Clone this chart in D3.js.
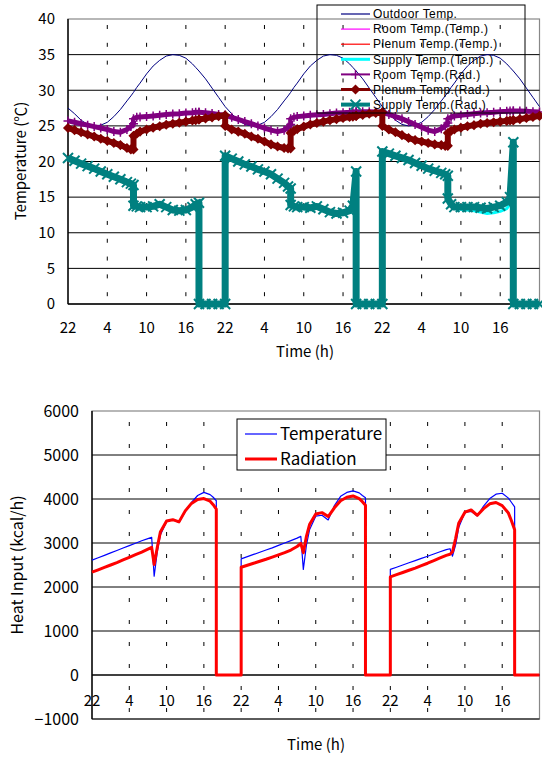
<!DOCTYPE html>
<html>
<head>
<meta charset="utf-8">
<script src="https://cdn.jsdelivr.net/npm/d3@7"></script>
<style>
  body { margin: 0; background: #fff; }
  svg { display: block; }
  text { font-family: "Noto Sans CJK JP", "DejaVu Sans", sans-serif; fill: #000; }
  .leg text { font-family: "Liberation Sans", Arial, sans-serif; }
</style>
</head>
<body>
<svg id="chart" width="542" height="760"></svg>
<script>
// hours counted from 22:00 of the first day; repeated hours mark an on/off switch
const hours = [
  0,1,2,3,4,5,6,7,8,9,9.6,10,10,10.5,11,12,13,14,15,16,17,18,19,19.5,20,20,21,22,23,
  24,24,25,26,27,28,29,30,31,32,33,33.6,34,34,34.5,35,36,37,38,39,40,41,42,43,43.5,44,44,45,46,47,
  48,48,49,50,51,52,53,54,55,56,57,57.6,58,58,58.5,59,60,61,62,63,64,65,66,67,67.5,68,68,69,70,71,72
];

const outdoorTemp = [
  27.5,26.7,25.8,25.2,25.0,25.1,25.5,26.3,27.3,28.5,29.2,29.7,29.7,30.4,31.0,32.3,33.4,34.2,34.8,35.0,34.9,34.5,33.7,33.2,32.7,32.7,31.6,30.3,29.0,
  27.7,27.7,26.7,25.8,25.2,25.0,25.1,25.5,26.3,27.3,28.5,29.2,29.7,29.7,30.4,31.0,32.3,33.4,34.2,34.8,35.0,34.9,34.5,33.7,33.2,32.7,32.7,31.6,30.3,29.0,
  27.7,27.7,26.7,25.8,25.2,25.0,25.1,25.5,26.3,27.3,28.5,29.2,29.7,29.7,30.4,31.0,32.3,33.4,34.2,34.8,35.0,34.9,34.5,33.7,33.2,32.7,32.7,31.6,30.3,29.0,27.7
];
const roomTempT = [
  25.6,25.4,25.2,25.0,24.8,24.6,24.4,24.1,24.0,24.4,24.8,25.2,25.9,26.1,26.2,26.25,26.35,26.45,26.55,26.6,26.65,26.75,26.8,26.85,26.85,26.85,26.8,26.7,26.55,
  26.45,26.45,26.1,25.8,25.5,25.2,24.9,24.6,24.3,24.1,24.3,24.7,25.1,25.9,26.1,26.25,26.35,26.45,26.5,26.55,26.65,26.75,26.8,26.85,26.9,26.95,26.95,26.95,26.95,26.9,
  26.85,26.85,26.5,26.2,25.9,25.5,25.1,24.7,24.3,24.1,24.5,24.9,25.3,25.9,26.1,26.35,26.45,26.55,26.65,26.75,26.8,26.85,26.95,27.0,27.05,27.05,27.05,27.05,27.0,26.95,26.9
];
const plenumTempT = [
  24.5,24.2,23.9,23.6,23.3,23.0,22.7,22.4,22.1,21.7,21.5,21.5,23.5,23.85,24.15,24.45,24.7,24.9,25.1,25.25,25.4,25.55,25.7,25.75,25.85,25.85,26.0,26.15,26.3,
  26.45,24.8,24.3,24.0,23.7,23.3,23.0,22.6,22.2,21.9,21.7,21.65,21.65,23.9,24.25,24.5,24.85,25.15,25.35,25.55,25.75,25.9,26.05,26.2,26.25,26.35,26.35,26.5,26.65,26.75,
  26.85,24.8,24.3,23.9,23.5,23.1,22.8,22.6,22.4,22.2,22.1,22.0,22.0,23.9,24.25,24.45,24.7,24.9,25.05,25.25,25.35,25.45,25.55,25.65,25.7,25.75,25.75,25.9,26.05,26.2,26.35
];
const supplyTempT = [
  20.4,20.0,19.6,19.25,18.9,18.5,18.1,17.7,17.3,16.9,16.6,16.4,13.6,13.5,13.4,13.5,13.6,13.9,13.4,13.0,12.9,13.0,13.4,13.8,14.0,0,0,0,0,
  0,20.7,20.3,19.9,19.5,19.2,18.8,18.5,18.1,17.5,16.9,16.4,16.0,13.7,13.5,13.4,13.4,13.3,13.5,13.1,12.7,12.5,12.6,12.9,13.4,13.6,0,0,0,0,
  0,21.3,21.0,20.7,20.4,20.1,19.7,19.3,18.9,18.6,18.3,18.0,17.8,14.6,13.8,13.4,13.3,13.2,13.1,12.9,12.7,12.8,13.0,13.4,14.0,14.4,0,0,0,0,0
];
const roomTempR = [
  25.7,25.5,25.3,25.1,24.9,24.7,24.5,24.2,24.1,24.5,24.9,25.3,26.0,26.2,26.25,26.3,26.4,26.5,26.6,26.65,26.7,26.8,26.85,26.9,26.9,26.9,26.85,26.75,26.6,
  26.5,26.5,26.2,25.9,25.6,25.3,25.0,24.7,24.4,24.2,24.4,24.8,25.2,26.0,26.2,26.3,26.4,26.5,26.55,26.6,26.7,26.8,26.85,26.9,26.95,27.0,27.0,27.0,27.0,26.95,
  26.9,26.9,26.6,26.3,26.0,25.6,25.2,24.8,24.4,24.2,24.6,25.0,25.4,26.0,26.2,26.4,26.5,26.6,26.7,26.8,26.85,26.9,27.0,27.05,27.1,27.1,27.1,27.1,27.05,27.0,26.95
];
const plenumTempR = [
  24.7,24.4,24.1,23.8,23.5,23.2,22.9,22.6,22.3,21.9,21.7,21.7,23.6,23.9,24.2,24.5,24.75,24.95,25.15,25.3,25.45,25.6,25.75,25.8,25.9,25.9,26.05,26.2,26.35,
  26.5,25.0,24.5,24.2,23.9,23.5,23.2,22.8,22.4,22.1,21.9,21.85,21.85,24.0,24.3,24.55,24.9,25.2,25.4,25.6,25.8,25.95,26.1,26.25,26.3,26.4,26.4,26.55,26.7,26.8,
  26.9,25.0,24.5,24.1,23.7,23.3,23.0,22.8,22.6,22.4,22.3,22.2,22.2,24.0,24.3,24.5,24.75,24.95,25.1,25.3,25.4,25.5,25.6,25.7,25.75,25.8,25.8,25.95,26.1,26.25,26.4
];
const supplyTempR = [
  20.5,20.1,19.7,19.35,19.0,18.6,18.2,17.85,17.5,17.1,16.9,16.7,13.8,13.7,13.6,13.6,13.7,14.0,13.6,13.2,13.1,13.2,13.6,14.0,14.2,0,0,0,0,
  0,20.8,20.4,20.0,19.6,19.3,18.9,18.6,18.2,17.6,17.0,16.5,16.2,13.9,13.7,13.6,13.6,13.5,13.7,13.3,12.9,12.7,12.8,13.1,13.8,18.6,0,0,0,0,
  0,21.4,21.1,20.8,20.5,20.2,19.8,19.4,19.0,18.7,18.4,18.2,18.0,14.8,14.0,13.6,13.6,13.6,13.6,13.5,13.4,13.6,13.8,14.3,15.0,22.7,0,0,0,0,0
];

const heatTemp = [
  2610,2665,2720,2775,2830,2885,2940,2995,3050,3100,3130,2245,2245,2800,3180,3490,3530,3465,3710,3920,4080,4150,4100,4040,3960,0,0,0,0,
  0,2640,2690,2740,2790,2840,2890,2945,3000,3055,3110,3150,2400,2400,2950,3300,3610,3630,3525,3850,4060,4150,4185,4140,4080,4030,0,0,0,0,
  0,2400,2450,2500,2550,2600,2650,2700,2750,2800,2850,2870,2700,2700,2950,3350,3700,3720,3615,3840,4010,4110,4130,4020,3920,3820,0,0,0,0,0
];
const heatRad = [
  2336,2390,2445,2500,2555,2615,2675,2735,2795,2860,2900,2510,2510,2900,3250,3500,3530,3480,3730,3900,3990,4010,3950,3870,3770,0,0,0,0,
  0,2450,2495,2540,2585,2630,2680,2730,2780,2840,2920,2990,2780,2780,3150,3420,3660,3690,3600,3800,3960,4040,4070,4010,3940,3860,0,0,0,0,
  0,2230,2280,2330,2380,2430,2485,2540,2600,2660,2720,2745,2800,2800,3100,3450,3700,3750,3630,3780,3890,3920,3850,3680,3500,3300,0,0,0,0,0
];

const tickHours = [0,6,12,18,24,30,36,42,48,54,60,66];
const tickLabels = ["22","4","10","16","22","4","10","16","22","4","10","16"];
const tempTicks = [0,5,10,15,20,25,30,35,40];
const heatTicks = [-1000,0,1000,2000,3000,4000,5000,6000];

const svg = d3.select("#chart");

// marker shapes
const markers = {
  plus: "M-4.5,0H4.5M0,-4.5V4.5",
  diamond: "M0,-4L4,0L0,4L-4,0Z",
  cross: "M-5,-5L5,5M-5,5L5,-5"
};

function drawSeries(g, x, y, vals, s) {
  const pts = hours.map((h, i) => [x(h), y(vals[i])]);
  g.append("path")
    .attr("d", d3.line()(pts))
    .attr("fill", "none")
    .attr("stroke", s.color)
    .attr("stroke-width", s.width)
    .attr("stroke-linejoin", "round");
  if (s.marker) {
    g.append("g").selectAll("path").data(pts).join("path")
      .attr("transform", d => `translate(${d[0]},${d[1]})`)
      .attr("d", markers[s.marker])
      .attr("fill", s.marker == "diamond" ? s.color : "none")
      .attr("stroke", s.color)
      .attr("stroke-width", s.marker == "cross" ? 2 : 1.5);
  }
}

function drawFrame(g, x, y, ticks, yTicks, dashPhase) {
  const [x0, x1] = x.range();
  const [yb, yt] = y.range();
  g.append("rect")
    .attr("x", x0).attr("y", yt).attr("width", x1 - x0).attr("height", yb - yt)
    .attr("fill", "none").attr("stroke", "#888").attr("stroke-width", 1.2);
  // horizontal grid
  g.append("g").selectAll("line").data(yTicks.filter(v => v != y.domain()[1])).join("line")
    .attr("x1", x0).attr("x2", x1)
    .attr("y1", d => y(d)).attr("y2", d => y(d))
    .attr("stroke", "#000").attr("stroke-width", d => d == 0 ? 1.6 : 1);
  // dashed vertical grid
  const band = y(0) - y(yTicks[2] - yTicks[1]);
  g.append("g").selectAll("line").data(ticks.slice(1)).join("line")
    .attr("x1", d => x(d)).attr("x2", d => x(d))
    .attr("y1", yt).attr("y2", yb)
    .attr("stroke", "#000").attr("stroke-width", 1)
    .attr("stroke-dasharray", `4 ${band / 2 - 4}`)
    .attr("stroke-dashoffset", band / 2 - dashPhase);
  g.append("line").attr("x1", x0).attr("x2", x0).attr("y1", yt).attr("y2", yb)
    .attr("stroke", "#000").attr("stroke-width", 1.4);
}

// ---------- top chart ----------
const xT = d3.scaleLinear().domain([0, 72]).range([68, 539.5]);
const yT = d3.scaleLinear().domain([0, 40]).range([304, 19]);
const topG = svg.append("g");
drawFrame(topG, xT, yT, tickHours, tempTicks, 6);

const topSeries = [
  { name: "Outdoor Temp.", vals: outdoorTemp, color: "#000080", width: 1, legW: 1.2 },
  { name: "Room Temp.(Temp.)", vals: roomTempT, color: "#ff00ff", width: 1.2, legW: 1.2 },
  { name: "Plenum Temp.(Temp.)", vals: plenumTempT, color: "#ff0000", width: 1.2, legW: 1.2 },
  { name: "Supply Temp.(Temp.)", vals: supplyTempT, color: "#00ffff", width: 3, legW: 3 },
  { name: "Room Temp.(Rad.)", vals: roomTempR, color: "#800080", width: 5, legW: 2, marker: "plus" },
  { name: "Plenum Temp.(Rad.)", vals: plenumTempR, color: "#800000", width: 6, legW: 3, marker: "diamond" },
  { name: "Supply Temp.(Rad.)", vals: supplyTempR, color: "#008080", width: 7, legW: 4, marker: "cross" }
];
topSeries.forEach(s => drawSeries(topG, xT, yT, s.vals, s));

topG.append("g").selectAll("text").data(tempTicks).join("text")
  .attr("x", 55).attr("y", d => yT(d)).attr("dy", "0.35em")
  .attr("text-anchor", "end").style("font-size", "15px").text(d => d);
topG.append("g").selectAll("text").data(tickHours).join("text")
  .attr("x", d => xT(d)).attr("y", 328).attr("dy", "0.35em")
  .attr("text-anchor", "middle").style("font-size", "15px")
  .text((d, i) => tickLabels[i]);
topG.append("text").attr("x", 305).attr("y", 352).attr("dy", "0.35em")
  .attr("text-anchor", "middle").style("font-size", "15px").text("Time (h)");
topG.append("text").attr("transform", "translate(21,161) rotate(-90)")
  .attr("dy", "0.35em").attr("text-anchor", "middle").style("font-size", "15px")
  .text("Temperature (℃)");

// legend (no fill)
const lg = topG.append("g").attr("class", "leg");
lg.append("rect").attr("x", 317).attr("y", 5).attr("width", 208).attr("height", 108)
  .attr("fill", "none").attr("stroke", "#000").attr("stroke-width", 1);
topSeries.forEach((s, i) => {
  const ly = 14 + i * 15.1;
  lg.append("line").attr("x1", 341).attr("x2", 370).attr("y1", ly).attr("y2", ly)
    .attr("stroke", s.color).attr("stroke-width", s.legW);
  if (s.marker) {
    lg.append("path").attr("transform", `translate(355.5,${ly})`).attr("d", markers[s.marker])
      .attr("fill", s.marker == "diamond" ? s.color : "none")
      .attr("stroke", s.color).attr("stroke-width", s.marker == "cross" ? 2 : 1.5);
  }
  lg.append("text").attr("x", 373).attr("y", ly).attr("dy", "0.35em")
    .style("font-size", "12px").style("letter-spacing", "0.4px").text(s.name);
});

// ---------- bottom chart ----------
const xB = d3.scaleLinear().domain([0, 72]).range([92, 539.5]);
const yB = d3.scaleLinear().domain([-1000, 6000]).range([719, 411]);
const botG = svg.append("g");
drawFrame(botG, xB, yB, tickHours, heatTicks, 11);

const botSeries = [
  { name: "Temperature", vals: heatTemp, color: "#0000ff", width: 1.2 },
  { name: "Radiation", vals: heatRad, color: "#ff0000", width: 3 }
];
botSeries.forEach(s => drawSeries(botG, xB, yB, s.vals, s));

botG.append("g").selectAll("text").data(heatTicks).join("text")
  .attr("x", 79).attr("y", d => yB(d)).attr("dy", "0.35em")
  .attr("text-anchor", "end").style("font-size", "16px")
  .text(d => d < 0 ? "\u2212" + Math.abs(d) : d);
botG.append("g").selectAll("text").data(tickHours).join("text")
  .attr("x", d => xB(d)).attr("y", 701).attr("dy", "0.35em")
  .attr("text-anchor", "middle").style("font-size", "15px")
  .text((d, i) => tickLabels[i]);
botG.append("text").attr("x", 316).attr("y", 745).attr("dy", "0.35em")
  .attr("text-anchor", "middle").style("font-size", "15px").text("Time (h)");
botG.append("text").attr("transform", "translate(17,565) rotate(-90)")
  .attr("dy", "0.35em").attr("text-anchor", "middle").style("font-size", "16px")
  .text("Heat Input (kcal/h)");

const lb = botG.append("g");
lb.append("rect").attr("x", 237).attr("y", 419).attr("width", 149).attr("height", 51)
  .attr("fill", "#fff").attr("stroke", "#000").attr("stroke-width", 1);
botSeries.forEach((s, i) => {
  const ly = 434 + i * 25;
  lb.append("line").attr("x1", 245).attr("x2", 277).attr("y1", ly).attr("y2", ly)
    .attr("stroke", s.color).attr("stroke-width", s.width);
  lb.append("text").attr("x", 280).attr("y", ly).attr("dy", "0.35em")
    .style("font-size", "17px").text(s.name);
});
</script>
</body>
</html>
